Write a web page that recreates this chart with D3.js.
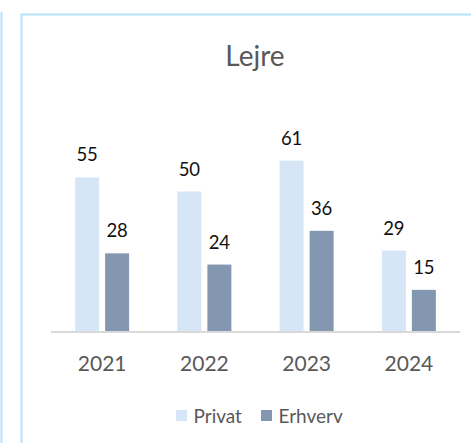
<!DOCTYPE html>
<html>
<head>
<meta charset="utf-8">
<script src="https://cdn.jsdelivr.net/npm/d3@7"></script>
<style>
  html, body { margin: 0; padding: 0; background: #fff; }
  svg { display: block; }
</style>
</head>
<body>
<script>
'use strict';

var title = 'Lejre';
var years = ['2021', '2022', '2023', '2024'];
var seriesNames = ['Privat', 'Erhverv'];
var privatValues = [55, 50, 61, 29];
var erhvervValues = [28, 24, 36, 15];
var colors = ['#d6e6f7', '#8497b0'];

var width = 471;
var height = 443;
var fontFamily = 'Lato, "Open Sans", sans-serif';

var svg = d3.select('body').append('svg')
    .attr('width', width)
    .attr('height', height);

// outer frames
svg.append('line')
    .attr('x1', 1.5).attr('x2', 1.5)
    .attr('y1', 12).attr('y2', height)
    .attr('stroke', '#b8e2fb')
    .attr('stroke-width', 2);

svg.append('path')
    .attr('d', 'M21.5,' + height + ' V14.5 H' + width)
    .attr('fill', 'none')
    .attr('stroke', '#b8e2fb')
    .attr('stroke-width', 2);

var x0 = d3.scaleBand()
    .domain(years)
    .range([51, 460]);

var x1 = d3.scaleBand()
    .domain(seriesNames)
    .range([x0.bandwidth() / 2 - 27, x0.bandwidth() / 2 + 27])
    .paddingInner(0.2);

var y = d3.scaleLinear()
    .domain([0, 70])
    .range([332, 135.3]);

var rows = years.map(function (yr, i) {
    return {
        year: yr,
        values: [
            {name: seriesNames[0], value: privatValues[i], color: colors[0]},
            {name: seriesNames[1], value: erhvervValues[i], color: colors[1]}
        ]
    };
});

var groups = svg.append('g')
    .selectAll('g.year')
    .data(rows)
    .enter()
    .append('g')
    .attr('class', 'year')
    .attr('transform', function (d) {
        return 'translate(' + x0(d.year) + ',0)';
    });

groups.selectAll('rect')
    .data(function (d) { return d.values; })
    .enter()
    .append('rect')
    .attr('x', function (d) { return x1(d.name); })
    .attr('y', function (d) { return y(d.value); })
    .attr('width', x1.bandwidth())
    .attr('height', function (d) { return y(0) - y(d.value); })
    .attr('fill', function (d) { return d.color; });

groups.selectAll('text.label')
    .data(function (d) { return d.values; })
    .enter()
    .append('text')
    .attr('class', 'label')
    .attr('x', function (d) { return x1(d.name) + x1.bandwidth() / 2; })
    .attr('y', function (d) { return y(d.value) - 16; })
    .attr('text-anchor', 'middle')
    .attr('font-family', fontFamily)
    .attr('font-size', 18.5)
    .attr('fill', '#111')
    .text(function (d) { return d.value; });

// x axis
var xAxis = svg.append('g')
    .attr('transform', 'translate(0,' + y(0) + ')')
    .call(d3.axisBottom(x0).tickSize(0));

xAxis.select('.domain')
    .attr('stroke', '#d9d9d9')
    .attr('stroke-width', 2)
    .attr('d', 'M51,0H460');

xAxis.selectAll('text')
    .attr('y', 39)
    .attr('dy', 0)
    .attr('font-family', fontFamily)
    .attr('font-size', 21)
    .attr('fill', '#595959');

// title
svg.append('text')
    .attr('x', 255)
    .attr('y', 66)
    .attr('text-anchor', 'middle')
    .attr('font-family', fontFamily)
    .attr('font-size', 28)
    .attr('fill', '#595959')
    .text(title);

// legend
var legendX = [176, 261];
var legend = svg.append('g')
    .selectAll('g')
    .data(seriesNames)
    .enter()
    .append('g')
    .attr('transform', function (d, i) {
        return 'translate(' + legendX[i] + ',410)';
    });

legend.append('rect')
    .attr('width', 11)
    .attr('height', 11)
    .attr('fill', function (d, i) { return colors[i]; });

legend.append('text')
    .attr('x', 17.5)
    .attr('y', 12.5)
    .attr('font-family', fontFamily)
    .attr('font-size', 19)
    .attr('fill', '#595959')
    .text(function (d) { return d; });
</script>
</body>
</html>
